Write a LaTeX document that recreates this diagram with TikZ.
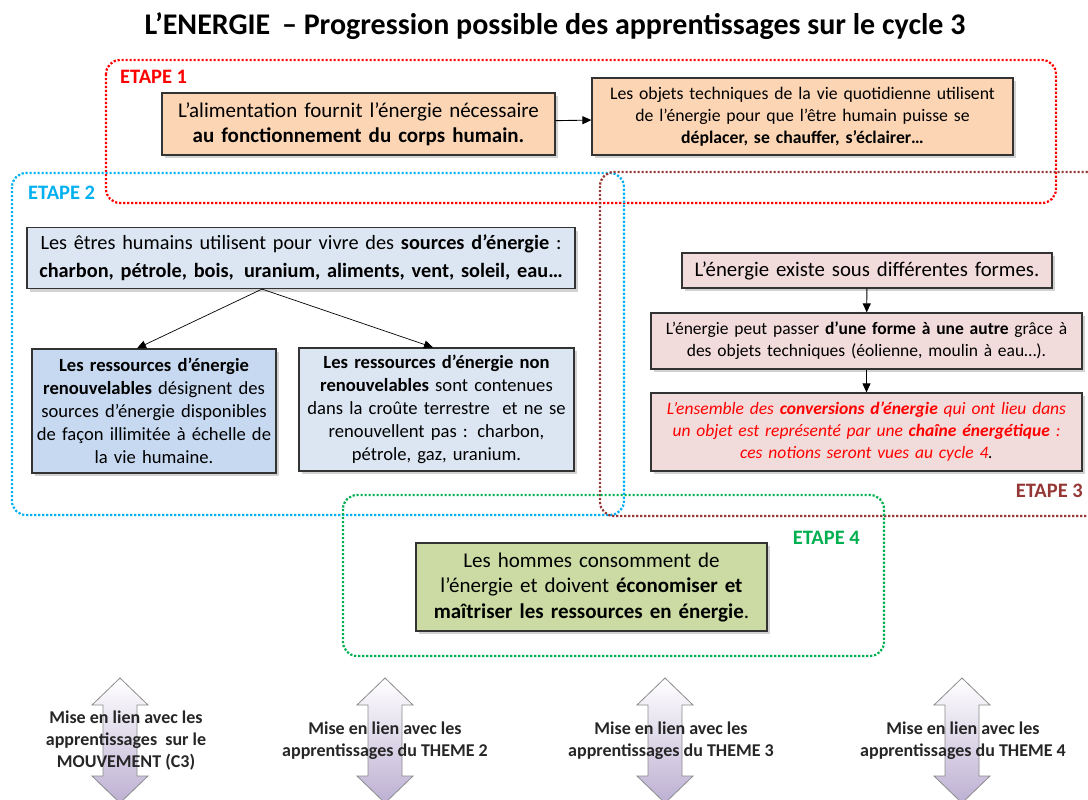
\documentclass[tikz,border=0pt]{standalone}
\usepackage{fontspec}
\setmainfont{Carlito}
\usepackage{xcolor}
\usepackage{tikz}
\usetikzlibrary{calc,shadows,arrows.meta}
\definecolor{etapeRed}{HTML}{FF0000}
\definecolor{etapeBlue}{HTML}{00B0F0}
\definecolor{etapeBrown}{HTML}{953735}
\definecolor{etapeGreen}{HTML}{00B050}
\definecolor{peach}{HTML}{FCD5B5}
\definecolor{paleBlue}{HTML}{DCE6F2}
\definecolor{midBlue}{HTML}{C6D9F1}
\definecolor{palePink}{HTML}{F2DCDB}
\definecolor{olive}{HTML}{CBDBA3}
\definecolor{lilac}{HTML}{BDB0D3}
\tikzset{x=1pt, y=-1pt,
	etape frame/.style={line width=2.2pt, dash pattern=on 2.2pt off 1.8pt, rounded corners=14pt},
	etape label/.style={font=\fontsize{20.5}{24}\selectfont\bfseries, inner sep=0pt},
	info box/.style={draw=black!80, line width=1.2pt, align=center, inner sep=0pt,
		drop shadow={shadow xshift=3pt, shadow yshift=-3pt, opacity=0.35}},
	link arrow/.style={draw=black!45, line width=0.8pt, top color=white, bottom color=lilac},
	link text/.style={font=\fontsize{18}{22}\selectfont\bfseries, align=center, text=black!85},
	flow/.style={-{Triangle[length=9pt,width=8pt]}, line width=0.9pt}
}
% double arrow at the bottom, with its text
\def\LinkArrow#1#2#3#4{%
	\begin{scope}[shift={(#2,0)}]
		\path[link arrow] (0,678) -- (28,705) -- (17,705) -- (17,776) -- (28,776)
			-- (0,803) -- (-28,776) -- (-17,776) -- (-17,705) -- (-28,705) -- cycle;
	\end{scope}
	\node[link text] (#1) at (#3,741) {#4};
}

\begin{document}
\begin{tikzpicture}
\clip (0,0) rectangle (1088,800);
\fill[white] (0,0) rectangle (1088,800);

\node[font=\fontsize{30}{34}\selectfont\bfseries] (title) at (555,26)
	{L’ENERGIE \,– Progression possible des apprentissages sur le cycle 3};

% les quatre etapes
\draw[etape frame, etapeRed] (106,60) rectangle (1056,203);
\draw[etape frame, etapeBlue] (12,173) rectangle (624,515);
\draw[etape frame, etapeBrown] (600,172) rectangle (1100,516);
\draw[etape frame, etapeGreen] (343,495) rectangle (884,656);
\node[etape label, etapeRed, anchor=west] (etapeA) at (120,77) {ETAPE 1};
\node[etape label, etapeBlue, anchor=west] (etapeB) at (28,193) {ETAPE 2};
\node[etape label, etapeBrown, anchor=east] (etapeC) at (1083,491) {ETAPE 3};
\node[etape label, etapeGreen, anchor=east] (etapeD) at (860,538) {ETAPE 4};

% etape 1
\node[info box, fill=peach, minimum width=393, minimum height=62, text width=385,
	font=\fontsize{21}{25}\selectfont] (alim) at (358.5,124)
	{L’alimentation fournit l’énergie nécessaire\\ \textbf{au fonctionnement du corps humain.}};
\node[info box, fill=peach, minimum width=421, minimum height=77, text width=414,
	font=\fontsize{17.7}{22}\selectfont] (objets) at (802.5,116.5)
	{Les objets techniques de la vie quotidienne utilisent\\ de l’énergie pour que l’être humain puisse se\\
	\textbf{déplacer, se chauffer, s’éclairer…}};
\draw[flow] (alim) -- (objets);

% etape 2
\node[info box, fill=paleBlue, minimum width=548, minimum height=61, text width=544,
	font=\fontsize{20.3}{28}\selectfont] (sources) at (301,258)
	{Les êtres humains utilisent pour vivre des \textbf{sources d’énergie} :\\
	\textbf{charbon, pétrole, bois, \,uranium, aliments, vent, soleil, eau…}};
\node[info box, fill=midBlue, minimum width=244, minimum height=124, text width=240,
	font=\fontsize{18.6}{23}\selectfont] (renouv) at (154,411)
	{\textbf{Les ressources d’énergie}\\ \textbf{renouvelables} désignent des\\ sources d’énergie disponibles\\
	de façon illimitée à échelle de\\ la vie humaine.};
\node[info box, fill=paleBlue, minimum width=275, minimum height=123, text width=270,
	font=\fontsize{18.6}{23}\selectfont] (nonrenouv) at (436.5,409.5)
	{\textbf{Les ressources d’énergie non}\\ \textbf{renouvelables} sont contenues\\ dans la croûte terrestre \ et ne se\\
	renouvellent pas : charbon,\\ pétrole, gaz, uranium.};
\coordinate (fork) at ($(sources.south)+(-39,0)$);
\draw[flow, line width=0.7pt] (fork) -- (renouv.north -| 137,0);
\draw[flow, line width=0.7pt] (fork) -- (nonrenouv.north -| 433,0);

% etape 3
\node[info box, fill=palePink, minimum width=370, minimum height=35, text width=366,
	font=\fontsize{20.8}{22}\selectfont] (formes) at (867,270.5)
	{L’énergie existe sous différentes formes.};
\node[info box, fill=palePink, minimum width=431, minimum height=56, text width=428,
	font=\fontsize{17.5}{22}\selectfont] (passer) at (866.5,341)
	{L’énergie peut passer \textbf{d’une forme à une autre} grâce à\\ des objets techniques (éolienne, moulin à eau…).};
\node[info box, fill=palePink, minimum width=431, minimum height=78, text width=428,
	font=\fontsize{17.5}{22}\selectfont\itshape, text=etapeRed] (chaine) at (866.5,432)
	{L’ensemble des \textbf{conversions d’énergie} qui ont lieu dans\\
	un objet est représenté par une \textbf{chaîne énergétique} :\\ ces notions seront vues au cycle 4\textcolor{black}{.}};
\draw[flow] (formes) -- (passer);
\draw[flow] (passer) -- (chaine);

% etape 4
\node[info box, fill=olive, minimum width=351, minimum height=88, text width=347,
	font=\fontsize{21}{25.5}\selectfont] (hommes) at (591.5,587)
	{Les hommes consomment de\\ l’énergie et doivent \textbf{économiser et}\\
	\textbf{maîtriser les ressources en énergie}.};

% liens avec les autres themes
\LinkArrow{lienMvt}{120}{126}{Mise en lien avec les\\ apprentissages \ sur le\\ MOUVEMENT (C3)}
\LinkArrow{lienDeux}{385}{385}{Mise en lien avec les\\ apprentissages du THEME 2}
\LinkArrow{lienTrois}{665}{671}{Mise en lien avec les\\ apprentissages du THEME 3}
\LinkArrow{lienQuatre}{962}{963}{Mise en lien avec les\\ apprentissages du THEME 4}

\end{tikzpicture}
\end{document}
